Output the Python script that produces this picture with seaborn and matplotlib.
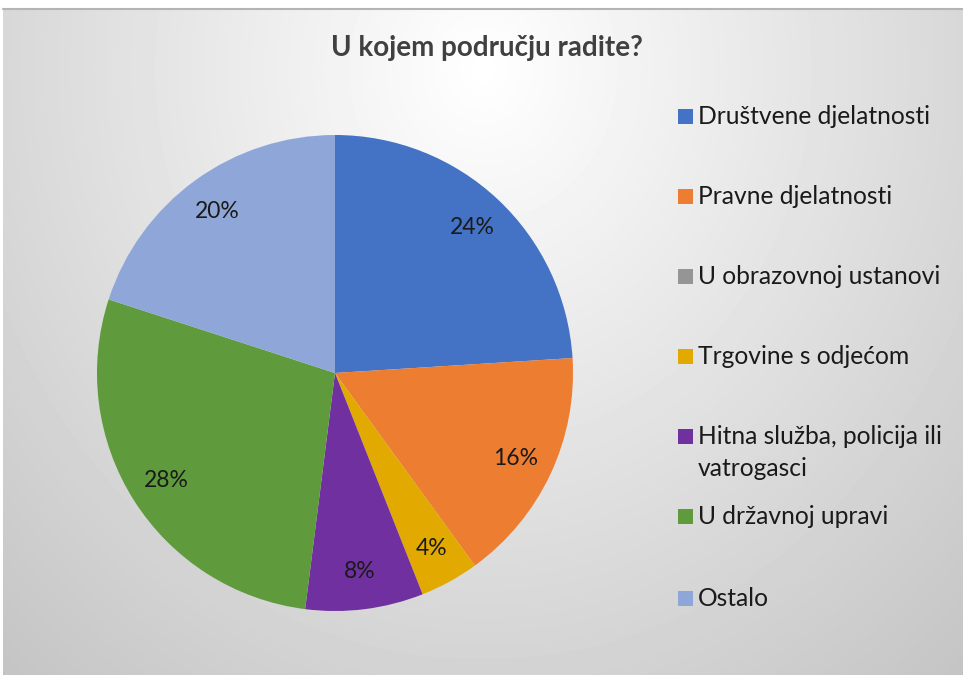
import matplotlib.pyplot as plt
from matplotlib.patches import Rectangle
import seaborn as sns
import numpy as np

categories = ['Društvene djelatnosti', 'Pravne djelatnosti', 'U obrazovnoj ustanovi',
              'Trgovine s odjećom', 'Hitna služba, policija ili\nvatrogasci',
              'U državnoj upravi', 'Ostalo']
shares = [24, 16, 0, 4, 8, 28, 20]
colors = ['#4472C4', '#ED7D31', '#959595', '#E2AA00', '#7030A0', '#5F9B3C', '#8FA6D8']
title = 'U kojem području radite?'

sns.set_theme(style='white')
plt.rcParams['font.family'] = ['Lato', 'DejaVu Sans']

W, H = 963, 675
fig = plt.figure(figsize=(W / 100, H / 100), dpi=100)
fig.patch.set_facecolor('white')

# background: radial grey gradient inside the chart frame
bx0, by0 = 3, 9
bw, bh = W - bx0, H - by0
bg = fig.add_axes([bx0 / W, 0, bw / W, bh / H], zorder=-5)
yy, xx = np.mgrid[0:bh, 0:bw]
d = np.sqrt(((xx - 480) / 537.0) ** 2 + ((yy - 60) / 606.0) ** 2)
val = (255 - 44 * d) / 255.0
bg.imshow(val, cmap='gray', vmin=0, vmax=1, aspect='auto', interpolation='bilinear')
bg.set_axis_off()
fig.add_artist(plt.Line2D([bx0 / W, 1], [1 - by0 / H, 1 - by0 / H],
                          color='#B4B4B4', lw=1.5, transform=fig.transFigure))

# pie
cx, cy, r = 335, 373, 238
ax = fig.add_axes([(cx - r) / W, (H - cy - r) / H, 2 * r / W, 2 * r / H])
ax.patch.set_alpha(0)


def pct(v):
    return f'{v:.0f}%' if v > 0.5 else ''


wedges, texts, autotexts = ax.pie(shares, colors=colors, startangle=90, counterclock=False,
                                  autopct=pct, pctdistance=0.84,
                                  wedgeprops=dict(linewidth=0),
                                  textprops=dict(fontsize=16.5, color='#1A1A1A'))
ax.set_xlim(-1, 1)
ax.set_ylim(-1, 1)
ax.set_aspect('auto')
ax.set_axis_off()

fig.text(487 / W, 1 - 48 / H, title, ha='center', va='center',
         fontsize=20, fontweight='bold', color='#404040')

# legend on the right
y = 117
for name, col in zip(categories, colors):
    fig.add_artist(Rectangle((678 / W, 1 - (y + 7) / H), 15 / W, 15 / H,
                             facecolor=col, edgecolor='none', transform=fig.transFigure))
    fig.text(698 / W, 1 - y / H, name.split('\n')[0], ha='left', va='center',
             fontsize=17.7, color='#1A1A1A')
    if '\n' in name:
        fig.text(698 / W, 1 - (y + 31) / H, name.split('\n')[1], ha='left', va='center',
                 fontsize=17.7, color='#1A1A1A')
    y += 80 if name != 'U državnoj upravi' else 82

fig.savefig('out.png', dpi=100)
